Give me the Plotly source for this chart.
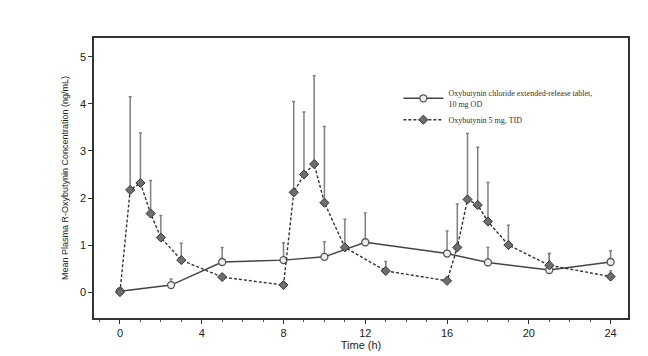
import plotly.graph_objects as go

# Oxybutynin chloride extended-release tablet, 10 mg OD
er_time = [0, 2.5, 5, 8, 10, 12, 16, 18, 21, 24]
er_mean = [0.02, 0.15, 0.64, 0.68, 0.75, 1.06, 0.82, 0.63, 0.47, 0.64]
er_upper = [0.02, 0.28, 0.95, 1.05, 1.07, 1.68, 1.30, 0.95, 0.82, 0.88]

# Oxybutynin 5 mg, TID
ir_time = [0, 0.5, 1, 1.5, 2, 3, 5, 8, 8.5, 9, 9.5, 10, 11, 13, 16, 16.5, 17, 17.5, 18, 19, 21, 24]
ir_mean = [0.0, 2.17, 2.32, 1.67, 1.16, 0.68, 0.32, 0.15, 2.12, 2.50, 2.72, 1.90, 0.95, 0.45, 0.24,
           0.95, 1.97, 1.85, 1.50, 1.00, 0.57, 0.33]
ir_upper = [0.0, 4.15, 3.38, 2.37, 1.63, 1.04, 0.32, 0.15, 4.05, 3.83, 4.60, 3.52, 1.55, 0.65, 0.24,
            1.87, 3.37, 3.08, 2.33, 1.42, 0.82, 0.45]

x_ticks = [0, 4, 8, 12, 16, 20, 24]
y_ticks = [0, 1, 2, 3, 4, 5]

er_err = [u - m for u, m in zip(er_upper, er_mean)]
ir_err = [u - m for u, m in zip(ir_upper, ir_mean)]

fig = go.Figure()
fig.add_trace(go.Scatter(
    x=er_time, y=er_mean, mode="lines+markers",
    name="Oxybutynin chloride extended-release tablet,<br>10 mg OD",
    line=dict(color="#444444", width=1.4, dash="solid"),
    marker=dict(symbol="circle", size=7, color="#eeeeee", line=dict(color="#555555", width=1.3)),
    error_y=dict(type="data", symmetric=False, array=er_err, arrayminus=[0] * len(er_err),
                 color="#808080", thickness=1.5, width=1.5),
))
fig.add_trace(go.Scatter(
    x=ir_time, y=ir_mean, mode="lines+markers",
    name="Oxybutynin 5 mg, TID",
    line=dict(color="#333333", width=1.4, dash="3px,2px"),
    marker=dict(symbol="diamond", size=7, color="#6e6e6e", line=dict(color="#333333", width=1)),
    error_y=dict(type="data", symmetric=False, array=ir_err, arrayminus=[0] * len(ir_err),
                 color="#808080", thickness=1.5, width=1.5),
))

# page body has an 8px default margin, so the figure is sized to fit the 648x356 window
fig.update_layout(
    width=640, height=348,
    margin=dict(l=86, r=20, t=30, b=38),
    paper_bgcolor="white", plot_bgcolor="white",
    font=dict(family="Liberation Sans, Arial, sans-serif", color="#222222"),
    legend=dict(
        x=0.57, y=0.845, xanchor="left", yanchor="top",
        font=dict(family="Liberation Serif, Times New Roman, serif", size=8, color="#333333"),
        bgcolor="rgba(0,0,0,0)", tracegroupgap=4, itemwidth=40,
    ),
    showlegend=True,
)
fig.update_xaxes(
    automargin=False,
    range=[-1.27, 24.85], tickvals=x_ticks, ticktext=[str(v) for v in x_ticks],
    showgrid=False, zeroline=False, showline=True, linecolor="#333333", linewidth=1.5,
    mirror=True, ticks="outside", ticklen=4, tickcolor="#333333",
    minor=dict(dtick=1, tick0=0, ticks="outside", ticklen=2, tickcolor="#555555"),
    tickfont=dict(size=11, color="#222222"),
    title=dict(text="Time (h)", font=dict(size=11, color="#222222"), standoff=2),
)
fig.update_yaxes(
    automargin=False,
    range=[-0.55, 5.4], tickvals=y_ticks, ticktext=[str(v) for v in y_ticks],
    showgrid=False, zeroline=False, showline=True, linecolor="#333333", linewidth=1.5,
    mirror=True, ticks="outside", ticklen=4, tickcolor="#333333",
    tickfont=dict(size=11, color="#222222"),
    title=dict(text="Mean Plasma R-Oxybutynin Concentration (ng/mL)", font=dict(size=9, color="#222222"),
               standoff=10),
)

fig.write_html("out.html")
